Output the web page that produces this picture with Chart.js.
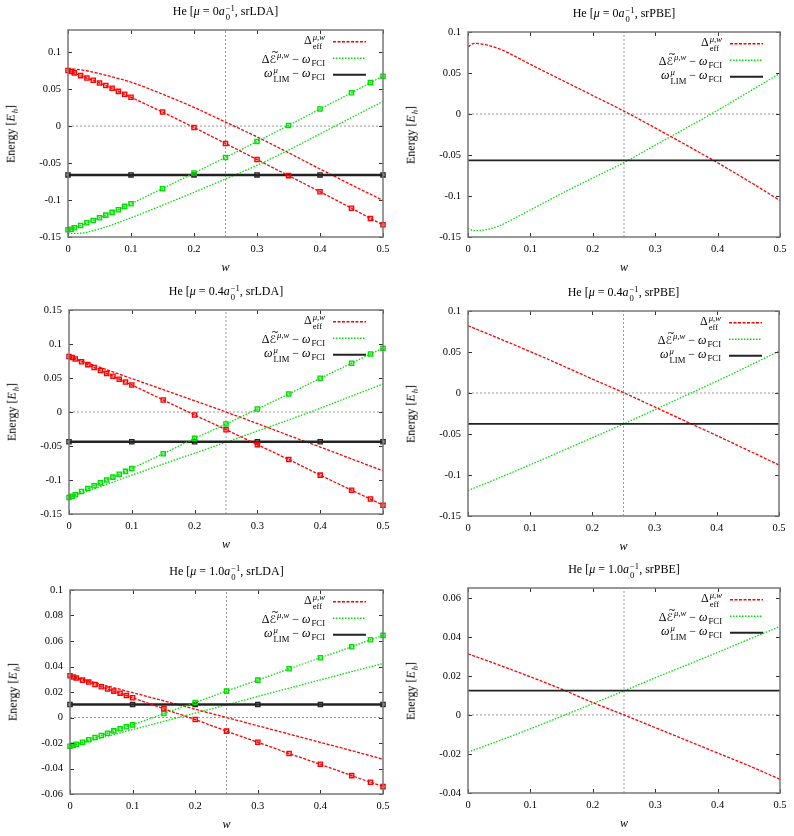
<!DOCTYPE html>
<html>
<head>
<meta charset="utf-8">
<script src="https://cdn.jsdelivr.net/npm/chart.js@4.4.1/dist/chart.umd.min.js"></script>
<style>
    body { margin: 0; background: #fff; }
    #fig { position: relative; width: 794px; height: 836px; font-family: 'Liberation Serif', 'DejaVu Serif', serif; color: #000; }
    .panel { position: absolute; width: 397px; height: 278px; }
    .panel canvas { position: absolute; left: 0; top: 0; }
    .lbl { position: absolute; white-space: nowrap; font-size: 12px; line-height: 1; transform: translate(-50%, -50%); }
    .ylab { transform: translate(-50%, -50%) rotate(-90deg); }
    .row { position: absolute; display: flex; align-items: center; white-space: nowrap; font-size: 12px; line-height: 1; transform: translateY(-50%); }
    .row svg { margin-left: 8px; }
    .ss { display: inline-flex; flex-direction: column; font-size: 0.72em; line-height: 1; vertical-align: 4px; margin-left: 1px; }
    .sb { font-size: 0.72em; vertical-align: -3px; margin-left: 1px; }
    .sp { font-size: 0.72em; vertical-align: 5px; margin-left: 1px; }
    .tl { position: relative; font-family: 'DejaVu Sans', sans-serif; font-size: 0.9em; }
    .tm { position: absolute; left: 0.2em; top: -0.6em; font-size: 0.85em; }
</style>
</head>
<body>
<div id="fig"></div>
<script>
// ---- data ----
const xTicks = [0, 0.1, 0.2, 0.3, 0.4, 0.5];
const yTicksA = [-0.15, -0.1, -0.05, 0, 0.05, 0.1];
const yTicksB = [-0.15, -0.1, -0.05, 0, 0.05, 0.1, 0.15];
const yTicksC = [-0.06, -0.04, -0.02, 0, 0.02, 0.04, 0.06, 0.08, 0.1];
const yTicksD = [-0.04, -0.02, 0, 0.02, 0.04, 0.06];

// w values of the srLDA points (squares), of the smooth curves and of the LIM line
const wPts = [0, 0.005, 0.01, 0.02, 0.03, 0.04, 0.05, 0.06, 0.07, 0.08, 0.09, 0.1, 0.15, 0.2, 0.25, 0.3, 0.35, 0.4, 0.45, 0.48, 0.5];
const wFine = [0, 0.01, 0.025, 0.05, 0.075, 0.1, 0.15, 0.2, 0.25, 0.3, 0.35, 0.4, 0.45, 0.5];
const wCoarse = [0, 0.05, 0.1, 0.15, 0.2, 0.25, 0.3, 0.35, 0.4, 0.45, 0.5];
const wLim = [0, 0.1, 0.2, 0.3, 0.4, 0.5];
const refW = 0.25;
const refE = 0;

// mu = 0, srLDA
const lda0RedPts = [0.0751, 0.0738, 0.072, 0.0683, 0.065, 0.062, 0.0584, 0.0548, 0.0511, 0.047, 0.043, 0.039, 0.019, -0.0018, -0.0235, -0.0452, -0.067, -0.0887, -0.111, -0.125, -0.1335];
const lda0GreenPts = [-0.1403, -0.1394, -0.1376, -0.1344, -0.1308, -0.1276, -0.124, -0.1204, -0.1167, -0.1131, -0.1086, -0.105, -0.0846, -0.0633, -0.0425, -0.0208, 0.0009, 0.0231, 0.0452, 0.0588, 0.0674];
const lda0RedCurve = [0.0774, 0.0772, 0.0755, 0.071, 0.0655, 0.0595, 0.0432, 0.0253, 0.0055, -0.0145, -0.036, -0.058, -0.0795, -0.1005];
const lda0GreenCurve = [-0.1448, -0.1452, -0.1443, -0.139, -0.132, -0.124, -0.107, -0.0895, -0.0715, -0.053, -0.0325, -0.0105, 0.0115, 0.0335];
const lda0Lim = -0.066;

// mu = 0, srPBE
const pbe0RedCurve = [0.082, 0.0862, 0.085, 0.0795, 0.0705, 0.0605, 0.0415, 0.0225, 0.0035, -0.017, -0.038, -0.0595, -0.082, -0.1055];
const pbe0GreenCurve = [-0.1394, -0.1423, -0.1415, -0.1365, -0.127, -0.117, -0.097, -0.078, -0.0593, -0.038, -0.017, 0.0045, 0.027, 0.0495];
const pbe0Lim = -0.0565;

// mu = 0.4, srLDA
const lda04RedPts = [0.0815, 0.08, 0.078, 0.074, 0.0697, 0.0654, 0.0611, 0.0568, 0.0525, 0.0483, 0.044, 0.0398, 0.0177, -0.0044, -0.026, -0.048, -0.07, -0.0928, -0.115, -0.128, -0.137];
const lda04GreenPts = [-0.1257, -0.124, -0.1217, -0.1168, -0.1126, -0.1084, -0.1042, -0.1, -0.0958, -0.0916, -0.0873, -0.083, -0.0614, -0.0388, -0.0177, 0.0044, 0.0265, 0.0496, 0.0717, 0.0854, 0.0938];
const lda04RedCurve = [0.0815, 0.0655, 0.049, 0.033, 0.0165, 0.0, -0.017, -0.0345, -0.0515, -0.069, -0.0865];
const lda04GreenCurve = [-0.1257, -0.1095, -0.093, -0.0765, -0.0605, -0.0445, -0.028, -0.0115, 0.0055, 0.0235, 0.0412];
const lda04Lim = -0.0437;

// mu = 0.4, srPBE
const pbe04RedCurve = [0.082, 0.0665, 0.0505, 0.034, 0.017, 0.0005, -0.017, -0.0345, -0.052, -0.0698, -0.0878];
const pbe04GreenCurve = [-0.119, -0.1035, -0.0875, -0.071, -0.0545, -0.0378, -0.0205, -0.003, 0.0145, 0.0325, 0.051];
const pbe04Lim = -0.0377;

// mu = 1.0, srLDA
const lda1RedPts = [0.0327, 0.0317, 0.0309, 0.0293, 0.0278, 0.0259, 0.0241, 0.0223, 0.0207, 0.0191, 0.0173, 0.0155, 0.0068, -0.0016, -0.0107, -0.0194, -0.0283, -0.0367, -0.0456, -0.0508, -0.0542];
const lda1GreenPts = [-0.0225, -0.0217, -0.021, -0.0194, -0.0175, -0.0157, -0.0141, -0.0123, -0.0105, -0.0088, -0.0073, -0.0058, 0.0031, 0.0118, 0.0207, 0.0293, 0.0382, 0.0469, 0.0555, 0.061, 0.0644];
const lda1RedCurve = [0.0327, 0.026, 0.0195, 0.013, 0.0065, 0.0, -0.0065, -0.013, -0.0195, -0.026, -0.0327];
const lda1GreenCurve = [-0.0225, -0.016, -0.0095, -0.003, 0.0035, 0.0099, 0.0165, 0.023, 0.0295, 0.036, 0.0424];
const lda1Lim = 0.0102;

// mu = 1.0, srPBE
const pbe1RedCurve = [0.0313, 0.0255, 0.0195, 0.0132, 0.0063, 0.0, -0.0065, -0.013, -0.0195, -0.026, -0.033];
const pbe1GreenCurve = [-0.0191, -0.0132, -0.0071, -0.0007, 0.0058, 0.0123, 0.019, 0.0255, 0.032, 0.0387, 0.0453];
const pbe1Lim = 0.0124;

document.addEventListener('DOMContentLoaded', () => {
    const PANEL_W = 397;
    const PANEL_H = 278;
    const Y_AXIS_W = 40;
    const X_AXIS_H = 20;
    const RED = '#ff0000';
    const GREEN = '#00dd00';
    const tickFont = { family: "'Liberation Serif', serif", size: 10.5 };

    // panel layout: position on the page and plot rectangle [left, top, right, bottom] inside the panel
    const panels = [
        { pos: [0, 0], plot: [68, 30, 383, 237], mu: '0', xc: 'srLDA', yMin: -0.15, yMax: 0.13, yTicks: yTicksA,
          wCurve: wFine, redCurve: lda0RedCurve, greenCurve: lda0GreenCurve, redPts: lda0RedPts, greenPts: lda0GreenPts, lim: lda0Lim },
        { pos: [397, 0], plot: [71, 32, 383, 237], mu: '0', xc: 'srPBE', yMin: -0.15, yMax: 0.1, yTicks: yTicksA,
          wCurve: wFine, redCurve: pbe0RedCurve, greenCurve: pbe0GreenCurve, lim: pbe0Lim },
        { pos: [0, 278], plot: [69, 32, 383, 236], mu: '0.4', xc: 'srLDA', yMin: -0.15, yMax: 0.15, yTicks: yTicksB,
          wCurve: wCoarse, redCurve: lda04RedCurve, greenCurve: lda04GreenCurve, redPts: lda04RedPts, greenPts: lda04GreenPts, lim: lda04Lim },
        { pos: [397, 278], plot: [71, 33, 382, 238], mu: '0.4', xc: 'srPBE', yMin: -0.15, yMax: 0.1, yTicks: yTicksA,
          wCurve: wCoarse, redCurve: pbe04RedCurve, greenCurve: pbe04GreenCurve, lim: pbe04Lim },
        { pos: [0, 556], plot: [70, 34, 383, 238], mu: '1.0', xc: 'srLDA', yMin: -0.06, yMax: 0.1, yTicks: yTicksC,
          wCurve: wCoarse, redCurve: lda1RedCurve, greenCurve: lda1GreenCurve, redPts: lda1RedPts, greenPts: lda1GreenPts, lim: lda1Lim },
        { pos: [397, 556], plot: [71, 32, 383, 237], mu: '1.0', xc: 'srPBE', yMin: -0.04, yMax: 0.065, yTicks: yTicksD,
          wCurve: wCoarse, redCurve: pbe1RedCurve, greenCurve: pbe1GreenCurve, lim: pbe1Lim }
    ];

    const fmt = v => String(Math.round(v * 1000) / 1000);
    const xy = (ws, vs) => ws.map((w, i) => ({ x: w, y: vs[i] }));

    // gnuplot-like frame: box plus inward ticks mirrored on all four sides
    const gnuFrame = {
        id: 'gnuFrame',
        afterDatasetsDraw(chart) {
            const { ctx, chartArea: a, scales: { x, y } } = chart;
            ctx.save();
            ctx.strokeStyle = '#333';
            ctx.lineWidth = 1;
            ctx.beginPath();
            x.ticks.forEach(t => {
                const px = Math.round(x.getPixelForValue(t.value)) + 0.5;
                ctx.moveTo(px, a.bottom); ctx.lineTo(px, a.bottom - 4);
                ctx.moveTo(px, a.top); ctx.lineTo(px, a.top + 4);
            });
            y.ticks.forEach(t => {
                const py = Math.round(y.getPixelForValue(t.value)) + 0.5;
                ctx.moveTo(a.left, py); ctx.lineTo(a.left + 4, py);
                ctx.moveTo(a.right, py); ctx.lineTo(a.right - 4, py);
            });
            ctx.stroke();
            ctx.strokeStyle = '#777';
            ctx.lineWidth = 1.5;
            ctx.strokeRect(a.left, a.top, a.right - a.left, a.bottom - a.top);
            ctx.restore();
        }
    };

    function sampleSvg(color, width, dash) {
        return `<svg width="33" height="5"><line x1="0" y1="2.5" x2="33" y2="2.5" stroke="${color}" stroke-width="${width}"` +
            (dash ? ` stroke-dasharray="${dash}"` : '') + '/></svg>';
    }

    /**
     * Builds one panel: canvas with the chart, plus title, axis labels and legend as HTML text.
     */
    function renderPanel(cfg) {
        const [pl, pt, pr, pb] = cfg.plot;
        const isLda = !!cfg.redPts;
        const div = document.createElement('div');
        div.className = 'panel';
        div.style.left = cfg.pos[0] + 'px';
        div.style.top = cfg.pos[1] + 'px';
        const canvas = document.createElement('canvas');
        canvas.width = PANEL_W;
        canvas.height = PANEL_H;
        div.appendChild(canvas);

        const cx = (pl + pr) / 2;
        const cy = (pt + pb) / 2;
        div.insertAdjacentHTML('beforeend',
            `<div class="lbl" style="left:${cx}px;top:${pt - 17}px">He [<i>μ</i> = ${cfg.mu}<i>a</i><span class="ss"><span>−1</span><span>0</span></span>, ${cfg.xc}]</div>` +
            `<div class="lbl ylab" style="left:${pl - 56}px;top:${cy}px">Energy [<i>E</i><span class="sb"><i>h</i></span>]</div>` +
            `<div class="lbl" style="left:${cx}px;top:${pb + 30}px"><i>w</i></div>`);

        const legendRows = [
            [`Δ<span class="ss"><span><i>μ,w</i></span><span>eff</span></span>`, sampleSvg(RED, 1.5, '3 1.5')],
            [`Δ<span class="tl">ℰ<span class="tm">~</span></span><span class="sp"><i>μ,w</i></span> − <i>ω</i><span class="sb">FCI</span>`, sampleSvg(GREEN, 1.5, '1.5 1.5')],
            [`<i>ω</i><span class="ss"><span><i>μ</i></span><span>LIM</span></span> − <i>ω</i><span class="sb">FCI</span>`, sampleSvg('#222', 2, null)]
        ];
        legendRows.forEach(([text, svg], i) => {
            div.insertAdjacentHTML('beforeend',
                `<div class="row" style="right:${PANEL_W - pr + 17}px;top:${pt + 12 + i * 16.5}px"><span>${text}</span>${svg}</div>`);
        });
        document.getElementById('fig').appendChild(div);

        const datasets = [];
        if (isLda) {
            datasets.push({
                data: xy(wPts, cfg.redPts), borderColor: RED, borderWidth: 1.3, borderDash: [3, 1.5],
                pointStyle: 'rect', pointRadius: 3, pointBorderWidth: 1.3, pointBorderColor: RED,
                pointBackgroundColor: 'rgba(255,0,0,0.35)', clip: false
            });
            datasets.push({
                data: xy(wPts, cfg.greenPts), borderColor: GREEN, borderWidth: 1.3, borderDash: [1.5, 1.5],
                pointStyle: 'rect', pointRadius: 3, pointBorderWidth: 1.3, pointBorderColor: GREEN,
                pointBackgroundColor: 'rgba(0,221,0,0.35)', clip: false
            });
        }
        datasets.push({
            data: wLim.map(w => ({ x: w, y: cfg.lim })), borderColor: '#222', borderWidth: isLda ? 2.5 : 1.8,
            pointStyle: 'rect', pointRadius: isLda ? 3 : 0, pointBorderWidth: 1.3, pointBorderColor: '#222',
            pointBackgroundColor: 'rgba(60,60,60,0.3)', clip: false
        });
        datasets.push({
            data: xy(cfg.wCurve, cfg.redCurve), borderColor: RED, borderWidth: 1.3, borderDash: [3, 1.5],
            pointRadius: 0, cubicInterpolationMode: 'monotone'
        });
        datasets.push({
            data: xy(cfg.wCurve, cfg.greenCurve), borderColor: GREEN, borderWidth: 1.3, borderDash: [1.5, 1.5],
            pointRadius: 0, cubicInterpolationMode: 'monotone'
        });
        // reference lines: E = 0 and w = 1/4
        datasets.push({
            data: [{ x: xTicks[0], y: refE }, { x: xTicks[xTicks.length - 1], y: refE }],
            borderColor: '#999', borderWidth: 1, borderDash: [2, 2], pointRadius: 0
        });
        datasets.push({
            data: [{ x: refW, y: cfg.yMin }, { x: refW, y: cfg.yMax }],
            borderColor: '#999', borderWidth: 1, borderDash: [2, 2], pointRadius: 0
        });

        new Chart(canvas, {
            type: 'line',
            data: { datasets },
            options: {
                responsive: false,
                animation: false,
                layout: { padding: { left: pl - Y_AXIS_W, top: pt, right: PANEL_W - pr, bottom: PANEL_H - pb - X_AXIS_H } },
                plugins: { legend: { display: false }, tooltip: { enabled: false } },
                scales: {
                    x: {
                        type: 'linear', min: 0, max: 0.5,
                        afterBuildTicks: s => { s.ticks = xTicks.map(v => ({ value: v })); },
                        afterFit: s => { s.height = X_AXIS_H; },
                        grid: { display: false, drawTicks: false },
                        border: { display: false },
                        ticks: { padding: 6, font: tickFont, color: '#000', callback: fmt, maxRotation: 0, autoSkip: false }
                    },
                    y: {
                        type: 'linear', min: cfg.yMin, max: cfg.yMax,
                        afterBuildTicks: s => { s.ticks = cfg.yTicks.map(v => ({ value: v })); },
                        afterFit: s => { s.width = Y_AXIS_W; },
                        grid: { display: false, drawTicks: false },
                        border: { display: false },
                        ticks: { padding: 7, font: tickFont, color: '#000', callback: fmt, autoSkip: false }
                    }
                }
            },
            plugins: [gnuFrame]
        });
    }

    panels.forEach(renderPanel);
});
</script>
</body>
</html>
